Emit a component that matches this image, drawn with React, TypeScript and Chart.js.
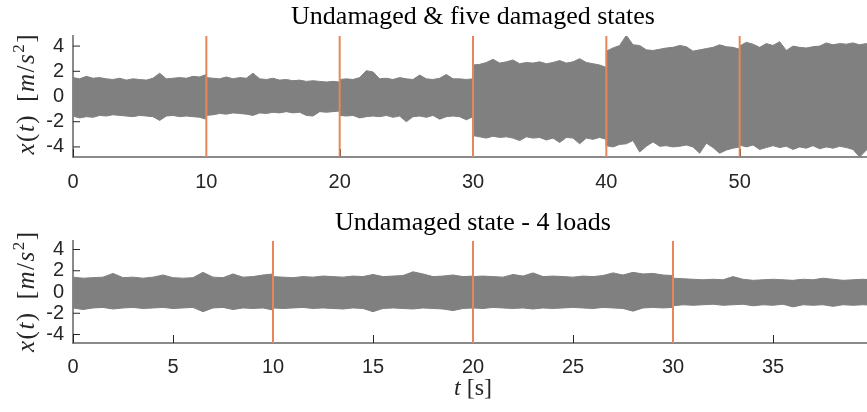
import React, { useEffect, useRef } from 'react';
import { Chart, registerables } from 'chart.js';

Chart.register(...registerables);

// ---------- data ----------
const SAMPLE_STEP = 0.5; // seconds between envelope samples
const Y_LIMIT = 4.8;
const Y_TICKS = [-4, -2, 0, 2, 4];

const TOP_TITLE = 'Undamaged & five damaged states';
const BOTTOM_TITLE = 'Undamaged state - 4 loads';

const TOP_X_MAX = 60;
const BOTTOM_X_MAX = 40;
const TOP_X_TICKS = [0, 10, 20, 30, 40, 50];
const BOTTOM_X_TICKS = [0, 5, 10, 15, 20, 25, 30, 35];
const TOP_BOUNDARIES = [10, 20, 30, 40, 50];
const BOTTOM_BOUNDARIES = [10, 20, 30];
const TOP_SEGMENT_STARTS = [0, 10, 20, 30, 40, 50];
const BOTTOM_SEGMENT_STARTS = [0, 10, 20, 30];

// Top: signal envelope (upper / lower), one array per state, sampled every 0.5 s
const TOP_UPPER_1 = [1.5, 1.4, 1.6, 1.45, 1.5, 1.4, 1.35, 1.45, 1.3, 1.4, 1.35, 1.3, 1.45, 1.85, 1.4, 1.45, 1.5, 1.45, 1.6, 1.55, 1.75];
const TOP_LOWER_1 = [-1.55, -1.7, -1.6, -1.65, -1.5, -1.55, -1.45, -1.5, -1.55, -1.6, -1.5, -1.55, -1.6, -1.9, -1.55, -1.5, -1.6, -1.55, -1.6, -1.65, -1.8];
const TOP_UPPER_2 = [1.5, 1.45, 1.4, 1.55, 1.4, 1.5, 1.45, 1.85, 1.4, 1.35, 1.45, 1.3, 1.35, 1.25, 1.3, 1.2, 1.25, 1.2, 1.15, 1.2, 1.15];
const TOP_LOWER_2 = [-1.5, -1.45, -1.35, -1.4, -1.3, -1.35, -1.4, -1.5, -1.3, -1.35, -1.25, -1.3, -1.2, -1.3, -1.25, -1.5, -1.55, -1.2, -1.25, -1.2, -1.15];
const TOP_UPPER_3 = [1.35, 1.4, 1.35, 1.5, 2.05, 1.95, 1.4, 1.45, 1.35, 1.5, 1.4, 1.35, 1.7, 1.4, 1.35, 1.45, 1.75, 1.4, 1.4, 1.35, 1.4];
const TOP_LOWER_3 = [-1.5, -1.55, -1.5, -1.7, -1.6, -1.55, -1.6, -1.5, -1.65, -1.55, -2.0, -1.6, -1.55, -1.65, -1.5, -1.8, -1.6, -1.55, -1.6, -1.85, -1.6];
const TOP_UPPER_4 = [2.5, 2.55, 2.7, 2.95, 2.65, 2.75, 2.9, 2.6, 2.7, 2.65, 2.75, 2.6, 2.7, 2.85, 2.65, 2.75, 3.0, 2.7, 2.6, 2.5, 2.3];
const TOP_LOWER_4 = [-3.1, -3.2, -3.3, -3.15, -3.25, -3.2, -3.3, -3.5, -3.2, -3.3, -3.25, -3.45, -3.3, -3.65, -3.25, -3.3, -3.75, -3.3, -3.4, -3.25, -3.4];
const TOP_UPPER_5 = [3.6, 3.85, 4.05, 4.85, 4.1, 4.05, 3.7, 3.65, 3.75, 3.85, 3.9, 4.05, 3.95, 3.6, 3.7, 3.8, 3.9, 4.1, 3.95, 3.9, 3.75];
const TOP_LOWER_5 = [-3.9, -4.0, -3.8, -3.75, -3.5, -4.4, -3.95, -3.6, -3.95, -3.9, -4.0, -3.95, -3.85, -4.0, -4.5, -3.7, -4.05, -4.5, -4.25, -4.1, -4.0];
const TOP_UPPER_6 = [4.0, 4.3, 4.15, 3.9, 4.2, 4.05, 4.35, 3.65, 4.0, 3.9, 3.85, 3.95, 4.0, 4.25, 4.1, 4.2, 4.15, 4.25, 4.1, 4.2, 4.0];
const TOP_LOWER_6 = [-3.85, -4.0, -3.85, -4.2, -4.05, -3.9, -4.05, -3.95, -4.2, -4.0, -4.1, -3.9, -4.15, -4.0, -4.1, -3.95, -4.05, -4.2, -4.8, -4.25, -4.1];

// Bottom: four load levels, undamaged
const BOT_UPPER_1 = [1.4, 1.3, 1.35, 1.4, 1.75, 1.35, 1.4, 1.3, 1.4, 1.6, 1.35, 1.3, 1.35, 1.85, 1.4, 1.35, 1.7, 1.4, 1.45, 1.6, 1.7];
const BOT_LOWER_1 = [-1.5, -1.65, -1.5, -1.45, -1.6, -1.5, -1.45, -1.55, -1.5, -1.45, -1.55, -1.5, -1.45, -1.85, -1.5, -1.45, -1.65, -1.5, -1.55, -1.5, -1.7];
const BOT_UPPER_2 = [1.45, 1.4, 1.35, 1.45, 1.4, 1.5, 1.45, 1.4, 1.5, 1.45, 1.65, 1.45, 1.5, 1.55, 1.9, 1.7, 1.45, 1.5, 1.6, 1.45, 1.5];
const BOT_LOWER_2 = [-1.5, -1.55, -1.5, -1.45, -1.55, -1.5, -1.55, -1.6, -1.5, -1.55, -1.85, -1.55, -1.5, -1.55, -1.6, -1.5, -1.55, -1.6, -1.75, -1.55, -1.5];
const BOT_UPPER_3 = [1.45, 1.5, 1.45, 1.4, 1.65, 1.5, 1.8, 1.45, 1.5, 1.45, 1.4, 1.5, 1.45, 1.55, 1.8, 1.6, 1.85, 1.7, 1.75, 1.6, 1.55];
const BOT_LOWER_3 = [-1.5, -1.55, -1.45, -1.5, -1.55, -1.5, -1.6, -1.5, -1.55, -1.5, -1.45, -1.5, -1.55, -1.45, -1.5, -1.55, -1.8, -1.5, -1.45, -1.5, -1.45];
const BOT_UPPER_4 = [1.3, 1.25, 1.2, 1.15, 1.2, 1.15, 1.45, 1.2, 1.1, 1.15, 1.2, 1.15, 1.1, 1.2, 1.15, 1.3, 1.2, 1.1, 1.15, 1.2, 1.15];
const BOT_LOWER_4 = [-1.3, -1.2, -1.25, -1.2, -1.15, -1.25, -1.2, -1.15, -1.3, -1.2, -1.25, -1.15, -1.4, -1.2, -1.25, -1.2, -1.35, -1.2, -1.25, -1.2, -1.25];

// y-axis label pieces (math italic / upright)
const Y_LABEL_PIECES = [
  { t: 'x', it: true }, { t: '(', it: false }, { t: 't', it: true }, { t: ')', it: false },
  { t: '[', it: false, gap: 12 }, { t: 'm', it: true }, { t: '/', it: false }, { t: 's', it: true },
  { t: '2', it: false, sup: true }, { t: ']', it: false },
];
const X_LABEL_PIECES = [{ t: 't', it: true }, { t: ' [s]', it: false }];

// ---------- style ----------
const SIGNAL_COLOR = '#808080';
const BOUNDARY_COLOR = 'rgb(229,134,94)';
const AXIS_COLOR = '#8a8a8a';
const TEXT_COLOR = '#262626';
const SERIF = '"Liberation Serif", "Times New Roman", serif';
const SANS = '"Liberation Sans", Arial, sans-serif';
const CANVAS_W = 880;

function buildEnvelope(starts: number[], segments: number[][]) {
  const pts: { x: number; y: number }[] = [];
  segments.forEach((seg, k) => {
    seg.forEach((v, i) => pts.push({ x: starts[k] + i * SAMPLE_STEP, y: v }));
  });
  return pts;
}

function drawPieces(ctx: CanvasRenderingContext2D, pieces: any[], size: number, spacing: number) {
  const fontFor = (p: any) => `${p.it ? 'italic ' : ''}${p.sup ? Math.round(size * 0.68) : size}px ${SERIF}`;
  let total = 0;
  pieces.forEach((p, i) => {
    ctx.font = fontFor(p);
    total += (p.gap || 0) + ctx.measureText(p.t).width + (i < pieces.length - 1 ? spacing : 0);
  });
  let x = -total / 2;
  pieces.forEach((p) => {
    ctx.font = fontFor(p);
    x += p.gap || 0;
    ctx.fillText(p.t, x, p.sup ? -size * 0.4 : 0);
    x += ctx.measureText(p.t).width + spacing;
  });
}

const decorPlugin = {
  id: 'decor',
  beforeDatasetsDraw(chart: any, _args: any, opts: any) {
    const { ctx, chartArea } = chart;
    const xs = chart.scales.x;
    const ys = chart.scales.y;
    ctx.save();
    ctx.strokeStyle = TEXT_COLOR;
    ctx.lineWidth = 1;
    for (const v of opts.yTicks) {
      const py = ys.getPixelForValue(v);
      ctx.beginPath();
      ctx.moveTo(chartArea.left, py);
      ctx.lineTo(chartArea.left + 7, py);
      ctx.stroke();
    }
    for (const v of opts.xTicks) {
      const px = Math.round(xs.getPixelForValue(v)) + 0.5;
      ctx.beginPath();
      ctx.moveTo(px, chartArea.bottom);
      ctx.lineTo(px, chartArea.bottom - 8);
      ctx.stroke();
    }
    ctx.restore();
  },
  afterDraw(chart: any, _args: any, opts: any) {
    const { ctx, chartArea } = chart;
    const cx = (chartArea.left + chartArea.right) / 2;
    ctx.save();
    ctx.fillStyle = '#000';
    ctx.textAlign = 'center';
    ctx.textBaseline = 'alphabetic';
    ctx.font = `26px ${SERIF}`;
    ctx.fillText(opts.title, cx, opts.titleBaseline);

    // y label (rotated)
    ctx.textAlign = 'left';
    ctx.fillStyle = TEXT_COLOR;
    ctx.save();
    ctx.translate(33.5, (chartArea.top + chartArea.bottom) / 2 + opts.yLabelShift);
    ctx.rotate(-Math.PI / 2);
    drawPieces(ctx, Y_LABEL_PIECES, 25, 1.5);
    ctx.restore();

    if (opts.showXLabel) {
      ctx.save();
      ctx.translate(cx, opts.xLabelBaseline);
      drawPieces(ctx, X_LABEL_PIECES, 24, 0);
      ctx.restore();
    }
    ctx.restore();
  },
};

function makeConfig(p: any): any {
  const datasets: any[] = [
    {
      data: p.upper, borderColor: SIGNAL_COLOR, backgroundColor: SIGNAL_COLOR, borderWidth: 1,
      pointRadius: 0, fill: '+1', order: 2,
    },
    {
      data: p.lower, borderColor: SIGNAL_COLOR, backgroundColor: SIGNAL_COLOR, borderWidth: 1,
      pointRadius: 0, fill: false, order: 2,
    },
    ...p.boundaries.map((b: number) => ({
      data: [{ x: b, y: -Y_LIMIT }, { x: b, y: Y_LIMIT }],
      borderColor: BOUNDARY_COLOR, borderWidth: 2, pointRadius: 0, fill: false, order: 0,
    })),
  ];
  return {
    type: 'line',
    data: { datasets },
    plugins: [decorPlugin],
    options: {
      responsive: false,
      animation: false,
      events: [],
      layout: { padding: { left: 0, right: CANVAS_W - 873, top: p.areaTop, bottom: 0 } },
      plugins: {
        legend: { display: false },
        tooltip: { enabled: false },
        title: { display: false },
        decor: {
          title: p.title, titleBaseline: p.titleBaseline, yTicks: Y_TICKS, xTicks: p.xTicks,
          yLabelShift: p.yLabelShift, showXLabel: p.showXLabel, xLabelBaseline: p.xLabelBaseline,
        },
      },
      scales: {
        x: {
          type: 'linear', min: 0, max: p.xMax,
          afterBuildTicks: (s: any) => { s.ticks = p.xTicks.map((v: number) => ({ value: v })); },
          afterFit: (s: any) => { s.height = p.xAxisHeight; },
          grid: { display: false, drawTicks: false },
          border: { display: true, color: AXIS_COLOR, width: 2 },
          ticks: { padding: p.xTickPadding, color: TEXT_COLOR, font: { family: SANS, size: 20 }, maxRotation: 0, autoSkip: false },
        },
        y: {
          type: 'linear', min: -Y_LIMIT, max: Y_LIMIT,
          afterBuildTicks: (s: any) => { s.ticks = Y_TICKS.map((v) => ({ value: v })); },
          afterFit: (s: any) => { s.width = 73; },
          grid: { display: false, drawTicks: false },
          border: { display: true, color: AXIS_COLOR, width: 2 },
          ticks: { padding: 9, color: TEXT_COLOR, font: { family: SANS, size: 20 }, autoSkip: false },
        },
      },
    },
  };
}

export default function App() {
  const topRef = useRef<HTMLCanvasElement>(null);
  const botRef = useRef<HTMLCanvasElement>(null);

  useEffect(() => {
    const topChart = new Chart(topRef.current as HTMLCanvasElement, makeConfig({
      upper: buildEnvelope(TOP_SEGMENT_STARTS, [TOP_UPPER_1, TOP_UPPER_2, TOP_UPPER_3, TOP_UPPER_4, TOP_UPPER_5, TOP_UPPER_6]),
      lower: buildEnvelope(TOP_SEGMENT_STARTS, [TOP_LOWER_1, TOP_LOWER_2, TOP_LOWER_3, TOP_LOWER_4, TOP_LOWER_5, TOP_LOWER_6]),
      boundaries: TOP_BOUNDARIES, xMax: TOP_X_MAX, xTicks: TOP_X_TICKS,
      title: TOP_TITLE, titleBaseline: 23.5, areaTop: 36, xAxisHeight: 200 - 157, xTickPadding: 13,
      yLabelShift: -2, showXLabel: false, xLabelBaseline: 0,
    }));
    const botChart = new Chart(botRef.current as HTMLCanvasElement, makeConfig({
      upper: buildEnvelope(BOTTOM_SEGMENT_STARTS, [BOT_UPPER_1, BOT_UPPER_2, BOT_UPPER_3, BOT_UPPER_4]),
      lower: buildEnvelope(BOTTOM_SEGMENT_STARTS, [BOT_LOWER_1, BOT_LOWER_2, BOT_LOWER_3, BOT_LOWER_4]),
      boundaries: BOTTOM_BOUNDARIES, xMax: BOTTOM_X_MAX, xTicks: BOTTOM_X_TICKS,
      title: BOTTOM_TITLE, titleBaseline: 29.5, areaTop: 41, xAxisHeight: 212 - 143, xTickPadding: 12,
      yLabelShift: 0, showXLabel: true, xLabelBaseline: 194.5,
    }));
    return () => { topChart.destroy(); botChart.destroy(); };
  }, []);

  return (
    <div style={{ position: 'absolute', left: 0, top: 0, width: 867, height: 412, overflow: 'hidden', background: '#fff' }}>
      <canvas ref={topRef} width={CANVAS_W} height={200} style={{ position: 'absolute', left: 0, top: 0, width: CANVAS_W, height: 200 }} />
      <canvas ref={botRef} width={CANVAS_W} height={212} style={{ position: 'absolute', left: 0, top: 200, width: CANVAS_W, height: 212 }} />
    </div>
  );
}
